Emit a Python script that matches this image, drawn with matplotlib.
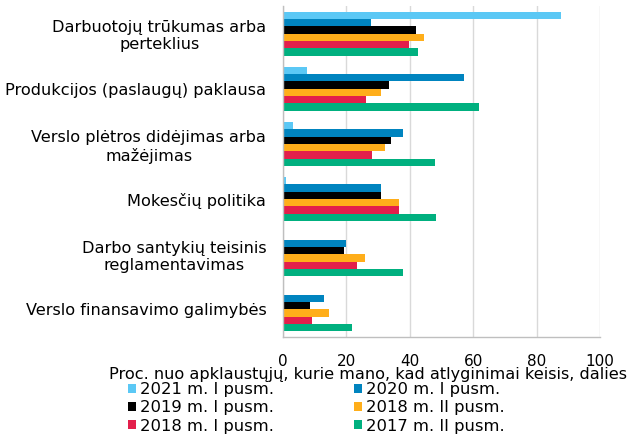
import matplotlib
matplotlib.use("Agg")
import matplotlib.pyplot as plt
import numpy as np

categories = [
    "Darbuotojų trūkumas arba\nperteklius",
    "Produkcijos (paslaugų) paklausa",
    "Verslo plėtros didėjimas arba\nmažėjimas",
    "Mokesčių politika",
    "Darbo santykių teisinis\nreglamentavimas",
    "Verslo finansavimo galimybės",
]
series_names = [
    "2021 m. I pusm.", "2020 m. I pusm.", "2019 m. I pusm.",
    "2018 m. II pusm.", "2018 m. I pusm.", "2017 m. II pusm.",
]
s2021_1 = [87.7, 7.6, 3.1, 0.8, 0.3, 0.0]
s2020_1 = [27.9, 57.0, 37.9, 31.0, 19.9, 13.0]
s2019_1 = [41.9, 33.5, 34.0, 30.8, 19.4, 8.6]
s2018_2 = [44.5, 30.9, 32.3, 36.7, 25.9, 14.4]
s2018_1 = [39.7, 26.1, 28.0, 36.7, 23.2, 9.3]
s2017_2 = [42.7, 61.9, 47.8, 48.4, 37.7, 21.9]
series = [s2021_1, s2020_1, s2019_1, s2018_2, s2018_1, s2017_2]
colors = ["#5BC8F5", "#0084BF", "#000000", "#FFAE1A", "#E31F4B", "#00B07F"]
xticks = [0, 20, 40, 60, 80, 100]
xlabel = "Proc. nuo apklaustųjų, kurie mano, kad atlyginimai keisis, dalies"

plt.rcParams['font.family'] = ['DejaVu Sans']
fig = plt.figure(figsize=(6.3, 4.36), dpi=100)
ax = fig.add_axes([283/630, 1-337/436, (600-283)/630, (337-6)/436])

n = len(categories)
nb = len(series)
bh = 0.8 / nb
y = np.arange(n)
handles = []
for i, (vals, c, name) in enumerate(zip(series, colors, series_names)):
    h = ax.barh(y - 0.4 + bh*(i+0.5), vals, height=bh, color=c, label=name)
    handles.append(h)

ax.set_ylim(n - 0.5, -0.5)
ax.set_xlim(0, 100)
ax.set_xticks(xticks)
ax.set_xticklabels([str(t) for t in xticks], fontsize=11)
ax.set_yticks(y)
ax.set_yticklabels(categories, fontsize=11.6, ha='right', multialignment='center')
ax.tick_params(axis='y', length=0, pad=12)
ax.tick_params(axis='x', length=0, pad=12)
ax.grid(axis='x', color='#d9d9d9', linewidth=1)
ax.set_axisbelow(True)
for s in ['top', 'right']:
    ax.spines[s].set_visible(False)
for s in ['left', 'bottom']:
    ax.spines[s].set_color('#bfbfbf')
    ax.spines[s].set_linewidth(1)
ax.set_xlabel(xlabel, fontsize=11.6)
ax.xaxis.set_label_coords((368-283)/317, 1 - (375-6)/331)
ax.xaxis.label.set_va('center')

# legend filled row-wise (2 columns)
order = [0, 2, 4, 1, 3, 5]
leg = fig.legend([handles[k] for k in order], [series_names[k] for k in order],
                 loc='upper left', bbox_to_anchor=(128/630, 1-382/436), ncol=2,
                 frameon=False, fontsize=11.8, handlelength=0.5, handleheight=0.5,
                 handletextpad=0.25, columnspacing=4.85, labelspacing=0.2,
                 borderpad=0, borderaxespad=0)

fig.savefig("out.png", dpi=100)
